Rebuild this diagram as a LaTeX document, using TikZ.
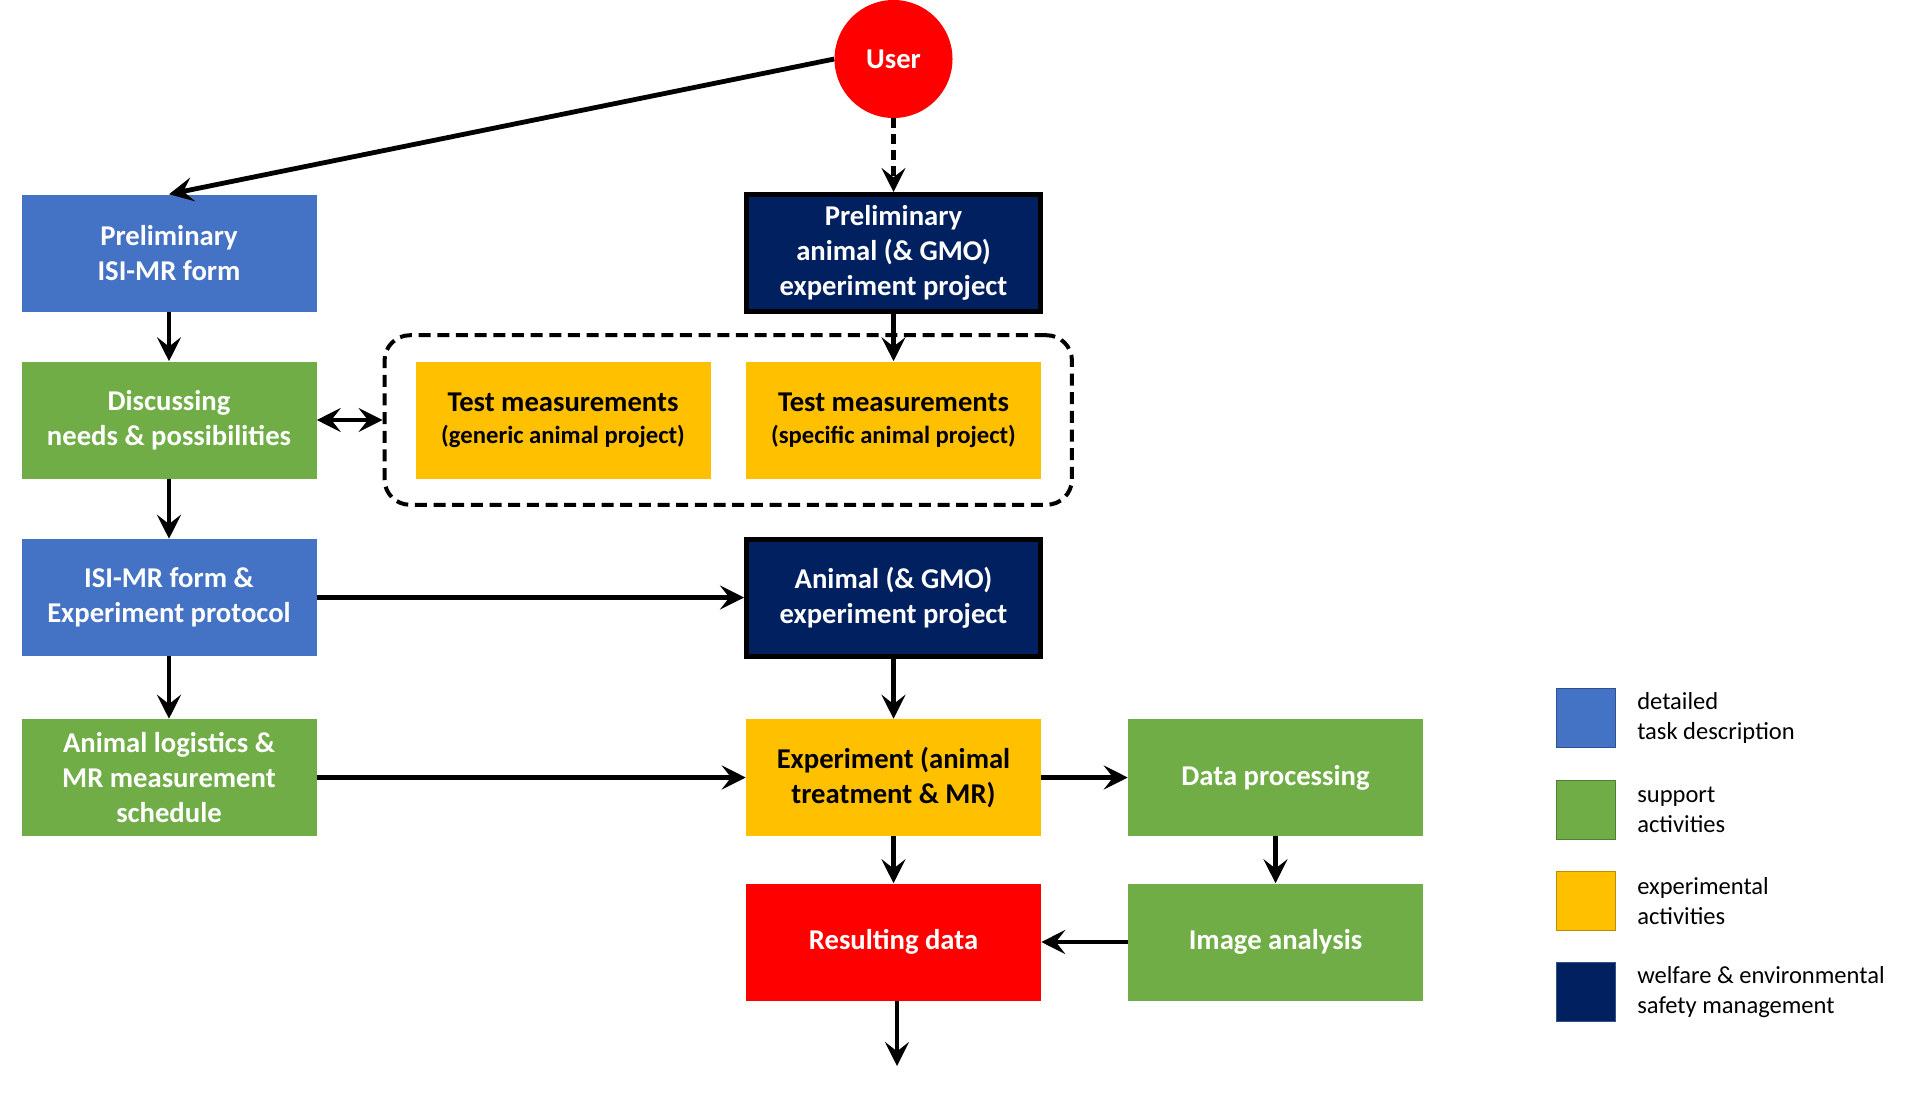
\documentclass[tikz,border=0pt]{standalone}
\usepackage{fontspec}
\setmainfont{Carlito}
\usetikzlibrary{arrows.meta,fit}

\definecolor{taskblue}{HTML}{4472C4}
\definecolor{taskblueline}{HTML}{2F528F}
\definecolor{suppgreen}{HTML}{70AD47}
\definecolor{suppgreenline}{HTML}{507E32}
\definecolor{expyellow}{HTML}{FFC000}
\definecolor{expyellowline}{HTML}{BC8C00}
\definecolor{welfnavy}{HTML}{002060}
\definecolor{userred}{HTML}{FF0000}

\begin{document}
\begin{tikzpicture}[x=0.75pt,y=-0.75pt,
	box/.style={rectangle,inner sep=0pt,align=center,text=white,minimum width=221.25pt,minimum height=87.75pt,font=\bfseries\fontsize{21.5}{26.5}\selectfont},
	task/.style={box,fill=taskblue},
	support/.style={box,fill=suppgreen},
	expt/.style={box,fill=expyellow,text=black},
	welfare/.style={box,fill=welfnavy,draw=black,line width=3.75pt,minimum width=220.5pt,minimum height=87.75pt},
	flow/.style={line width=3.6pt,-{Stealth[length=18pt,width=18pt,inset=7pt]}},
	key/.style={rectangle,minimum size=44pt,line width=1.1pt},
	keytext/.style={anchor=west,align=left,inner sep=0pt,font=\fontsize{18.4}{22.5}\selectfont}]

	\useasboundingbox (0,0) rectangle (1930,1095);

	\node [circle,fill=userred,minimum size=88.5pt,inner sep=0pt,text=white,font=\bfseries\fontsize{21.5}{26.5}\selectfont](USER) at (893.5,59) {User};

	\node [task](PISI) at (169,253) {Preliminary\\ISI-MR form};
	\node [welfare](PANI) at (893.5,253) {Preliminary\\animal (\& GMO)\\experiment project};
	\node [support](DISC) at (169,420) {Discussing\\needs \& possibilities};
	\node [expt](TGEN) at (563,420) {Test measurements\\[-2.5pt]{\fontsize{18.5}{22}\selectfont (generic animal project)}};
	\node [expt](TSPEC) at (893.5,420) {Test measurements\\[-2.5pt]{\fontsize{18.5}{22}\selectfont (specific animal project)}};
	\node [draw,dash pattern=on 9pt off 5pt,line width=3pt,rounded corners=19pt,inner xsep=23pt,inner ysep=19.5pt,fit=(TGEN)(TSPEC)](TESTS) {};
	\node [task](ISI) at (169,597.5) {ISI-MR form \&\\Experiment protocol};
	\node [welfare](ANI) at (893.5,597.5) {Animal (\& GMO)\\experiment project};
	\node [support](LOG) at (169,777.5) {Animal logistics \&\\MR measurement\\schedule};
	\node [expt](EXP) at (893.5,777.5) {Experiment (animal\\treatment \& MR)};
	\node [support](DATA) at (1275.5,777.5) {Data processing};
	\node [fill=userred,box](RES) at (893.5,942) {Resulting data};
	\node [support](IMG) at (1275.5,942) {Image analysis};
	\coordinate (OUT) at (897,1066);

	\draw [flow] (USER.west) to (PISI.north);
	\draw [flow,dash pattern=on 7.5pt off 4.5pt] (USER.south) to (PANI.north);
	\draw [flow] (PISI) to (DISC);
	\draw [flow] (PANI) to (TSPEC);
	\draw [flow,{Stealth[length=18pt,width=18pt,inset=7pt]}-{Stealth[length=18pt,width=18pt,inset=7pt]}] (DISC) to (TESTS);
	\draw [flow] (DISC) to (ISI);
	\draw [flow] (ISI) to (ANI);
	\draw [flow] (ISI) to (LOG);
	\draw [flow] (ANI) to (EXP);
	\draw [flow] (LOG) to (EXP);
	\draw [flow] (EXP) to (DATA);
	\draw [flow] (EXP) to (RES);
	\draw [flow] (DATA) to (IMG);
	\draw [flow] (IMG) to (RES);
	\draw [flow] (RES.south -| OUT) to (OUT);

	% legend
	\node [key,fill=taskblue,draw=taskblueline](KEYTASK) at (1586,718) {};
	\node [key,fill=suppgreen,draw=suppgreenline](KEYSUPP) at (1586,810) {};
	\node [key,fill=expyellow,draw=expyellowline](KEYEXP) at (1586,901) {};
	\node [key,fill=welfnavy,draw=taskblueline](KEYWELF) at (1586,992) {};
	\node [keytext](LBLTASK) at (1637,718) {detailed\\task description};
	\node [keytext](LBLSUPP) at (1637,810) {support\\activities};
	\node [keytext](LBLEXP) at (1637,901) {experimental\\activities};
	\node [keytext](LBLWELF) at (1637,992) {welfare \& environmental\\safety management};
\end{tikzpicture}
\end{document}
